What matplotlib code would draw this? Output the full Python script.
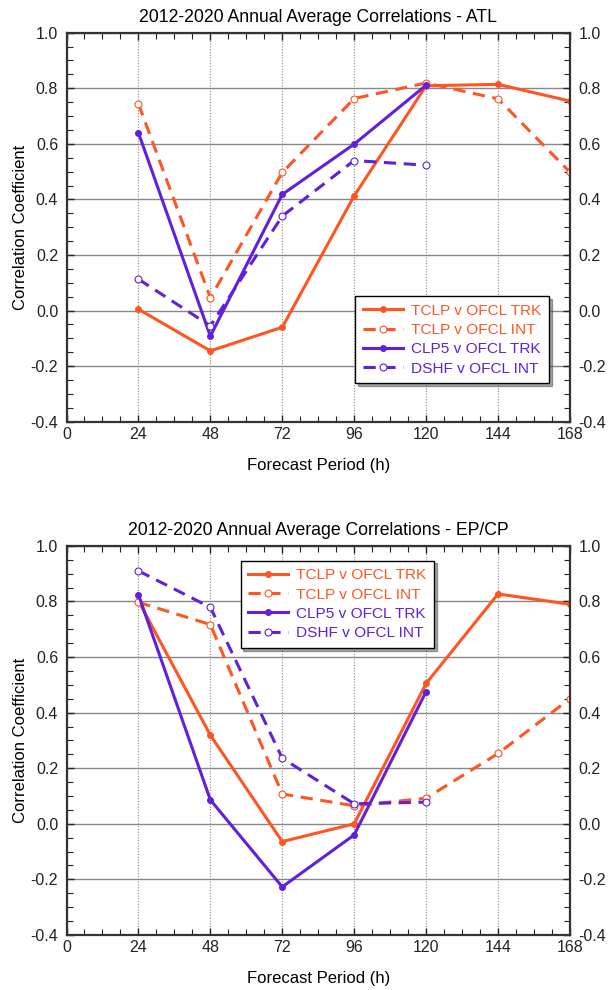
import matplotlib
matplotlib.use("Agg")
import matplotlib.pyplot as plt
from matplotlib.ticker import MultipleLocator

plt.rcParams["font.family"] = ["Liberation Sans", "DejaVu Sans"]

hours = [24, 48, 72, 96, 120, 144, 168]

# ATL
atl_tclp_trk = [0.005, -0.145, -0.06, 0.413, 0.809, 0.814, 0.754]
atl_tclp_int = [0.744, 0.046, 0.497, 0.763, 0.819, 0.762, 0.498]
atl_clp5_trk = [0.640, -0.092, 0.418, 0.599, 0.811]
atl_dshf_int = [0.113, -0.055, 0.340, 0.540, 0.523]

# EP/CP
ep_tclp_trk = [0.802, 0.319, -0.064, 0.0, 0.505, 0.827, 0.79]
ep_tclp_int = [0.797, 0.717, 0.107, 0.065, 0.092, 0.253, 0.45]
ep_clp5_trk = [0.824, 0.086, -0.227, -0.04, 0.476]
ep_dshf_int = [0.910, 0.779, 0.236, 0.072, 0.078]

ORANGE = "#FF5522"
PURPLE = "#6020DD"


def draw_panel(ax, title, tclp_trk, tclp_int, clp5_trk, dshf_int, legend_loc, anchor):
    ax.plot(hours[:len(tclp_trk)], tclp_trk, color=ORANGE, lw=2.2, marker="o",
            ms=4, label="TCLP v OFCL TRK")
    ax.plot(hours[:len(tclp_int)], tclp_int, color=ORANGE, lw=2.2, ls=(0, (4, 2.5)),
            marker="o", ms=5, mfc="white", mew=0.8, label="TCLP v OFCL INT")
    ax.plot(hours[:len(clp5_trk)], clp5_trk, color=PURPLE, lw=2.2, marker="o",
            ms=4, label="CLP5 v OFCL TRK")
    ax.plot(hours[:len(dshf_int)], dshf_int, color=PURPLE, lw=2.2, ls=(0, (4, 2.5)),
            marker="o", ms=5, mfc="white", mew=0.8, label="DSHF v OFCL INT")

    ax.set_xlim(0, 168)
    ax.set_ylim(-0.4, 1.0)
    ax.xaxis.set_major_locator(MultipleLocator(24))
    ax.xaxis.set_minor_locator(MultipleLocator(6))
    ax.yaxis.set_major_locator(MultipleLocator(0.2))
    ax.yaxis.set_minor_locator(MultipleLocator(0.05))
    ax.yaxis.set_major_formatter(matplotlib.ticker.FormatStrFormatter("%.1f"))

    ax.grid(axis="y", which="major", color="#888888", lw=1.0, ls="-")
    ax.grid(axis="x", which="major", color="#888888", lw=0.8, ls=(0, (1, 1.5)))
    ax.set_axisbelow(True)

    ax.tick_params(which="both", direction="in", top=True, right=True,
                   labelright=True, labelsize=11.5, colors="#222222")
    ax.tick_params(which="major", length=5, width=1)
    ax.tick_params(which="minor", length=4, width=0.8)
    ax.tick_params(axis="y", pad=6)
    for s in ax.spines.values():
        s.set_linewidth(1.6)
        s.set_color("#333333")

    ax.set_title(title, fontsize=12.7, pad=8)
    ax.set_xlabel("Forecast Period (h)", fontsize=12, labelpad=12)
    ax.set_ylabel("Correlation Coefficient", fontsize=12, labelpad=2)

    leg = ax.legend(loc=legend_loc, bbox_to_anchor=anchor, fontsize=11.1,
                    frameon=True, fancybox=False, shadow=True,
                    handlelength=2.6, handletextpad=0.5, borderpad=0.5,
                    labelspacing=0.34, borderaxespad=0)
    leg.get_frame().set_edgecolor("black")
    leg.get_frame().set_linewidth(1.0)
    for txt, line in zip(leg.get_texts(), leg.get_lines()):
        txt.set_color(line.get_color())


fig = plt.figure(figsize=(6.08, 9.9), dpi=100)
ax1 = fig.add_axes([0.1094, 0.574, 0.828, 0.393])
ax2 = fig.add_axes([0.1094, 0.0556, 0.828, 0.393])

draw_panel(ax1, "2012-2020 Annual Average Correlations - ATL",
           atl_tclp_trk, atl_tclp_int, atl_clp5_trk, atl_dshf_int,
           "lower right", (0.958, 0.099))
draw_panel(ax2, "2012-2020 Annual Average Correlations - EP/CP",
           ep_tclp_trk, ep_tclp_int, ep_clp5_trk, ep_dshf_int,
           "upper left", (0.346, 0.962))

fig.savefig("out.png", dpi=100)
